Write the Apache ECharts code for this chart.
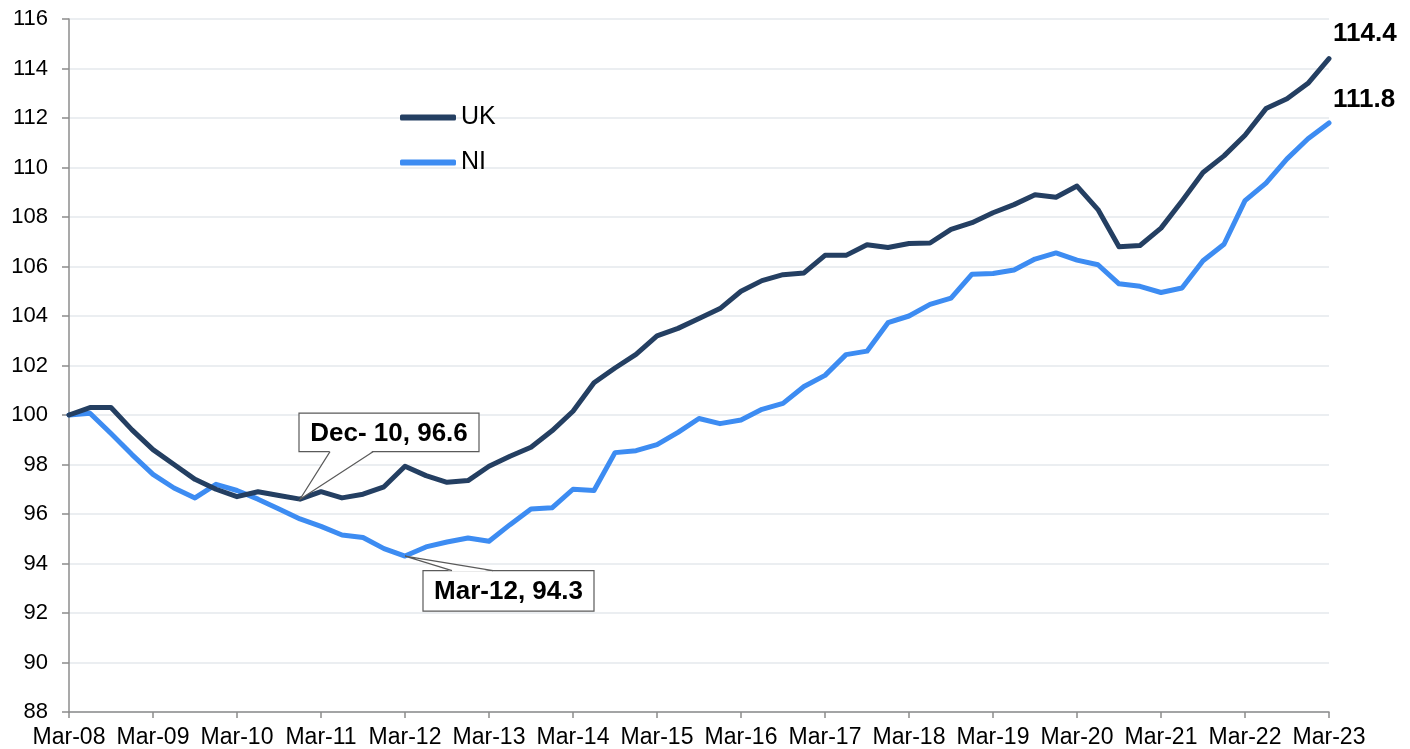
<!DOCTYPE html>
<html>
<head>
<meta charset="utf-8">
<script src="https://cdn.jsdelivr.net/npm/echarts@6/dist/echarts.min.js"></script>
<style>
html,body{margin:0;padding:0;background:#fff;}
#c{width:1410px;height:749px;}
</style>
</head>
<body>
<div id="c"></div>
<script>
// Quarterly categories Mar-08 .. Mar-23
const quarters = ['Mar','Jun','Sep','Dec'];
const categories = [];
for (let y = 8; y <= 23; y++) {
  for (let q = 0; q < 4; q++) {
    if (y === 23 && q > 0) break;
    categories.push(quarters[q] + '-' + (y < 10 ? '0' + y : '' + y));
  }
}

const ukValues = [
  100.0, 100.3, 100.3, 99.4, 98.6, 98.0, 97.4, 97.0, 96.7, 96.9, 96.75, 96.6,
  96.9, 96.65, 96.8, 97.1, 97.93, 97.55, 97.28, 97.35, 97.93, 98.33, 98.7, 99.36,
  100.15, 101.3, 101.9, 102.45, 103.2, 103.5, 103.9, 104.3, 105.0, 105.43, 105.67, 105.74,
  106.45, 106.45, 106.88, 106.77, 106.93, 106.95, 107.5, 107.77, 108.17, 108.5, 108.9, 108.8,
  109.25, 108.3, 106.8, 106.85, 107.55, 108.65, 109.8, 110.47, 111.3, 112.38, 112.78, 113.4,
  114.4
];

const niValues = [
  100.0, 100.07, 99.25, 98.4, 97.6, 97.05, 96.65, 97.2, 96.95, 96.6, 96.2, 95.8,
  95.5, 95.15, 95.05, 94.6, 94.3, 94.67, 94.87, 95.03, 94.9, 95.57, 96.2, 96.25,
  97.0, 96.95, 98.48, 98.56, 98.8, 99.3, 99.86, 99.65, 99.8, 100.23, 100.47, 101.15,
  101.6, 102.44, 102.58, 103.73, 104.0, 104.47, 104.72, 105.69, 105.72, 105.86, 106.3, 106.55,
  106.26, 106.07, 105.3, 105.2, 104.95, 105.13, 106.23, 106.9, 108.66, 109.37, 110.35, 111.16,
  111.8
];

const seriesNames = ['UK', 'NI'];
const yTicks = {min: 88, max: 116, interval: 2};

// callouts: [category, value, text]
const calloutUK = ['Dec-10', 96.6, 'Dec- 10, 96.6'];
const calloutNI = ['Mar-12', 94.3, 'Mar-12, 94.3'];

const FONT = '"Liberation Sans", Arial, sans-serif';
const UK_COLOR = '#243f62';
const NI_COLOR = '#3d8cf2';

const chart = echarts.init(document.getElementById('c'), null, {renderer: 'canvas'});

const option = {
  animation: false,
  backgroundColor: '#ffffff',
  textStyle: {fontFamily: FONT},
  grid: {left: 69, right: 81, top: 19, bottom: 37, containLabel: false},
  legend: {
    orient: 'vertical',
    left: 400,
    top: 105,
    padding: 0,
    icon: 'roundRect',
    itemWidth: 56,
    itemHeight: 6,
    itemGap: 20,
    data: seriesNames,
    textStyle: {fontFamily: FONT, fontSize: 25, color: '#000'}
  },
  xAxis: {
    type: 'category',
    data: categories,
    boundaryGap: false,
    axisLine: {lineStyle: {color: '#8c8c8c', width: 1.5}},
    axisTick: {show: true, interval: 3, length: 6, lineStyle: {color: '#8c8c8c', width: 1.5}},
    axisLabel: {interval: 3, fontFamily: FONT, fontSize: 23, color: '#000', margin: 14, showMaxLabel: true},
    splitLine: {show: false}
  },
  yAxis: {
    type: 'value',
    min: yTicks.min,
    max: yTicks.max,
    interval: yTicks.interval,
    axisLine: {show: true, lineStyle: {color: '#8c8c8c', width: 1.5}},
    axisTick: {show: true, length: 7, lineStyle: {color: '#8c8c8c', width: 1.5}},
    axisLabel: {fontFamily: FONT, fontSize: 22, color: '#000', margin: 21},
    splitLine: {show: true, lineStyle: {color: '#e5e8ec', width: 1.5}}
  },
  series: [
    {
      name: seriesNames[0],
      type: 'line',
      data: ukValues,
      showSymbol: false,
      symbol: 'none',
      lineStyle: {color: UK_COLOR, width: 5, join: 'round', cap: 'round'},
      itemStyle: {color: UK_COLOR},
      z: 3,
      endLabel: {
        show: true,
        formatter: (p) => p.value.toFixed(1),
        fontFamily: FONT, fontSize: 26, fontWeight: 'bold', color: '#000',
        offset: [-4, -25]
      }
    },
    {
      name: seriesNames[1],
      type: 'line',
      data: niValues,
      showSymbol: false,
      symbol: 'none',
      lineStyle: {color: NI_COLOR, width: 5, join: 'round', cap: 'round'},
      itemStyle: {color: NI_COLOR},
      z: 2,
      endLabel: {
        show: true,
        formatter: (p) => p.value.toFixed(1),
        fontFamily: FONT, fontSize: 26, fontWeight: 'bold', color: '#000',
        offset: [-4, -23]
      }
    }
  ]
};

chart.setOption(option);

function callout(c, boxDx, boxDy, w, h, baseL, baseR, baseOnTop) {
  const p = chart.convertToPixel({gridIndex: 0}, [c[0], c[1]]);
  const bx = p[0] + boxDx, by = p[1] + boxDy;
  const baseY = baseOnTop ? by : by + h;
  const inner = baseOnTop ? baseY + 1 : baseY - 1;
  return [
    {type: 'rect', shape: {x: bx, y: by, width: w, height: h},
     style: {fill: '#fff', stroke: '#5a5a5a', lineWidth: 1.2}, z: 100},
    {type: 'polygon', shape: {points: [[p[0] + baseL, inner], [p[0] + baseR, inner], [p[0], p[1]]]},
     style: {fill: '#fff', stroke: null}, z: 101},
    {type: 'polyline', shape: {points: [[p[0] + baseL, baseY], [p[0], p[1]], [p[0] + baseR, baseY]]},
     style: {fill: null, stroke: '#5a5a5a', lineWidth: 1.2}, z: 102},
    {type: 'text', x: bx + w / 2, y: by + h / 2 + 1,
     style: {text: c[2], fill: '#000', font: 'bold 26px ' + FONT, align: 'center', verticalAlign: 'middle'}, z: 103}
  ];
}

chart.setOption({
  graphic: [].concat(
    callout(calloutUK, -1, -86, 180, 38.5, 30, 73, false),
    callout(calloutNI, 18, 14.5, 171, 40.5, 47, 88, true)
  )
});
</script>
</body>
</html>
